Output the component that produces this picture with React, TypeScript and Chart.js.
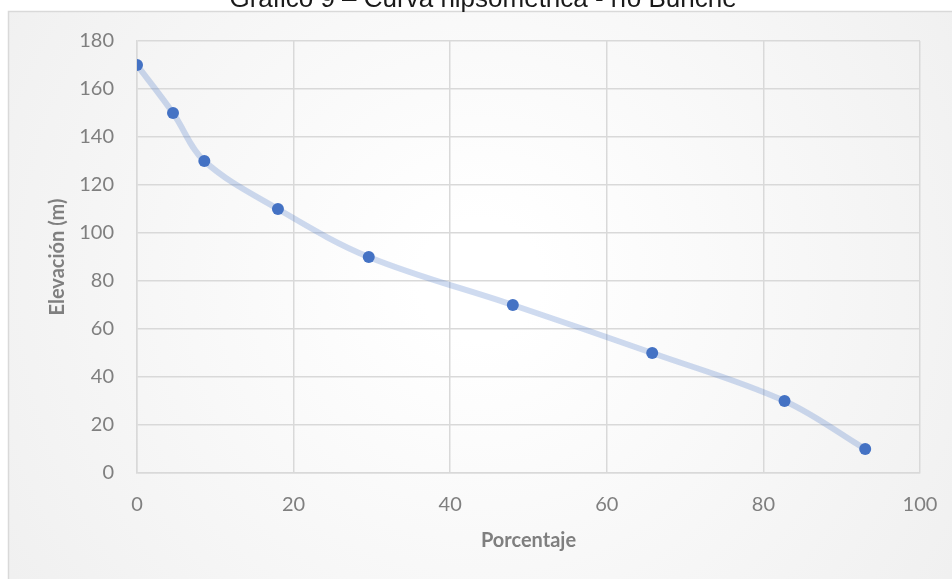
import React, { useEffect, useRef } from "react";
import { Chart, registerables } from "chart.js";

Chart.register(...registerables);

// Curva hipsométrica: porcentaje de área acumulada vs. elevación
const porcentaje = [0, 4.6, 8.6, 18.0, 29.6, 48.0, 65.8, 82.7, 93.0];
const elevacion = [170, 150, 130, 110, 90, 70, 50, 30, 10];

const chartTitle = "Gráfico 9 – Curva hipsométrica - río Buriche";
const xTitle = "Porcentaje";
const yTitle = "Elevación (m)";

const tickColor = "#7f7f7f";
const gridColor = "#d9d9d9";

const framePlugin = {
  id: "frame",
  beforeDraw(chart: Chart) {
    const { ctx, width, height } = chart;
    ctx.save();
    ctx.fillStyle = "#ffffff";
    ctx.fillRect(0, 0, width, height);
    const g = ctx.createRadialGradient(480, 280, 60, 480, 280, 720);
    g.addColorStop(0, "#ffffff");
    g.addColorStop(1, "#ebebeb");
    ctx.fillStyle = g;
    ctx.fillRect(8, 11, width - 8, height - 11);
    ctx.strokeStyle = gridColor;
    ctx.lineWidth = 1.5;
    ctx.beginPath();
    ctx.moveTo(8.5, height);
    ctx.lineTo(8.5, 11.5);
    ctx.lineTo(width, 11.5);
    ctx.stroke();
    ctx.fillStyle = "#1a1a1a";
    ctx.font = '26px "Liberation Sans", Arial, sans-serif';
    ctx.textAlign = "center";
    ctx.textBaseline = "alphabetic";
    ctx.fillText(chartTitle, 483, 7);
    ctx.restore();
  },
};

export default function App() {
  const ref = useRef<HTMLCanvasElement | null>(null);

  useEffect(() => {
    if (!ref.current) return;
    const points = porcentaje.map((x, i) => ({ x, y: elevacion[i] }));
    const chart = new Chart(ref.current, {
      type: "scatter",
      data: {
        datasets: [
          {
            data: points,
            showLine: true,
            tension: 0.35,
            borderColor: "rgba(68,114,196,0.26)",
            borderWidth: 6,
            pointBackgroundColor: "#4472c4",
            pointBorderColor: "#4472c4",
            pointRadius: 6,
            pointBorderWidth: 0,
          },
        ],
      },
      options: {
        animation: false,
        responsive: true,
        maintainAspectRatio: false,
        layout: { padding: { left: 40, right: 32, top: 41, bottom: 20 } },
        plugins: {
          legend: { display: false },
          tooltip: { enabled: false },
        },
        scales: {
          x: {
            type: "linear",
            min: 0,
            max: 100,
            ticks: {
              stepSize: 20,
              padding: 20,
              color: tickColor,
              font: { family: "Lato", size: 20 },
            },
            grid: { color: gridColor, lineWidth: 1.5, drawTicks: false },
            border: { color: gridColor, width: 1.5 },
            title: {
              display: true,
              text: xTitle,
              color: tickColor,
              font: { family: "Lato", size: 20, weight: "bold" },
              padding: { top: 0, bottom: 6 },
            },
            afterFit(scale: any) {
              scale.height = 86;
              scale.paddingLeft = 0;
              scale.paddingRight = 0;
            },
          },
          y: {
            type: "linear",
            min: 0,
            max: 180,
            ticks: {
              stepSize: 20,
              padding: 23,
              color: tickColor,
              font: { family: "Lato", size: 20 },
            },
            grid: { color: gridColor, lineWidth: 1.5, drawTicks: false },
            border: { color: gridColor, width: 1.5 },
            title: {
              display: true,
              text: yTitle,
              color: tickColor,
              font: { family: "Lato", size: 20, weight: "bold" },
              padding: { top: 6, bottom: 0 },
            },
            afterFit(scale: any) {
              scale.width = 97;
              scale.paddingTop = 0;
              scale.paddingBottom = 0;
            },
          },
        },
      },
      plugins: [framePlugin],
    });
    return () => chart.destroy();
  }, []);

  return (
    <div style={{ position: "fixed", left: 0, top: 0, width: 952, height: 579 }}>
      <canvas ref={ref} />
    </div>
  );
}
